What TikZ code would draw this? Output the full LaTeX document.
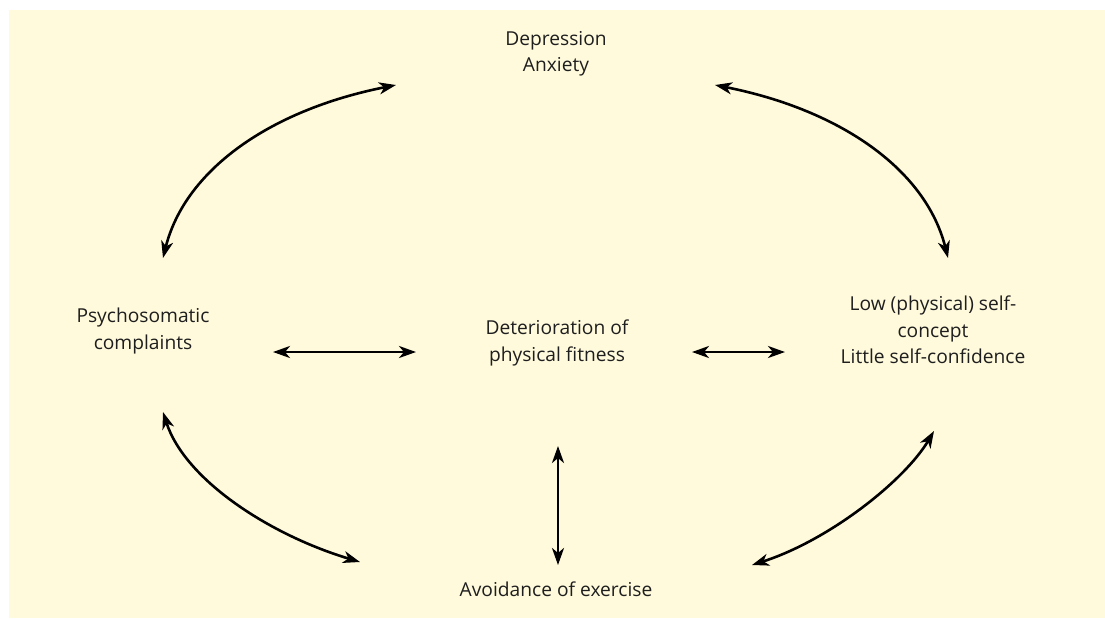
\documentclass[tikz,border=0pt]{standalone}
\usepackage{fontspec}
\setmainfont{Open Sans}
\usetikzlibrary{arrows.meta}
\definecolor{paper}{RGB}{255,250,220}
\definecolor{ink}{RGB}{30,30,30}
\begin{document}
\begin{tikzpicture}[x=0.5pt,y=-0.5pt,
        term/.style={align=center,text=ink,inner sep=0pt,
            font=\fontsize{9.6}{13.25}\selectfont},
        both/.style={{Stealth[length=8.5pt,width=6pt,inset=2.5pt]}-{Stealth[length=8.5pt,width=6pt,inset=2.5pt]},
            line width=1.3pt}]
    \useasboundingbox (0,0) rectangle (1105,618);
    \fill[paper] (9,10) rectangle (1105,618);
    % the five states
    \node[term] (mood) at (556,54) {Depression\\Anxiety};
    \node[term] (psych) at (143,331) {Psychosomatic\\complaints};
    \node[term] (fit) at (557,343) {Deterioration of\\physical fitness};
    \node[term] (self) at (933,330) {Low (physical) self-\\concept\\Little self-confidence};
    \node[term] (avoid) at (556,589) {Avoidance of exercise};
    % arrow ends
    \coordinate (a1) at (163,258); \coordinate (a2) at (396,85);
    \coordinate (b1) at (715,85);  \coordinate (b2) at (948,258);
    \coordinate (c1) at (163,412); \coordinate (c2) at (360,562);
    \coordinate (d1) at (934,431); \coordinate (d2) at (752,565);
    \coordinate (e1) at (273,352); \coordinate (e2) at (416,352);
    \coordinate (f1) at (692,352); \coordinate (f2) at (785,352);
    \coordinate (g1) at (558,446); \coordinate (g2) at (558,565);
    % curved links round the circle
    \draw[both] (a1) .. controls (185,170) and (270,110) .. (a2);
    \draw[both] (b1) .. controls (841,110) and (926,170) .. (b2);
    \draw[both] (c1) .. controls (185,480) and (270,535) .. (c2);
    \draw[both] (d1) .. controls (905,480) and (830,540) .. (d2);
    % straight links
    \draw[both] (e1) -- (e2);
    \draw[both] (f1) -- (f2);
    \draw[both] (g1) -- (g2);
\end{tikzpicture}
\end{document}
